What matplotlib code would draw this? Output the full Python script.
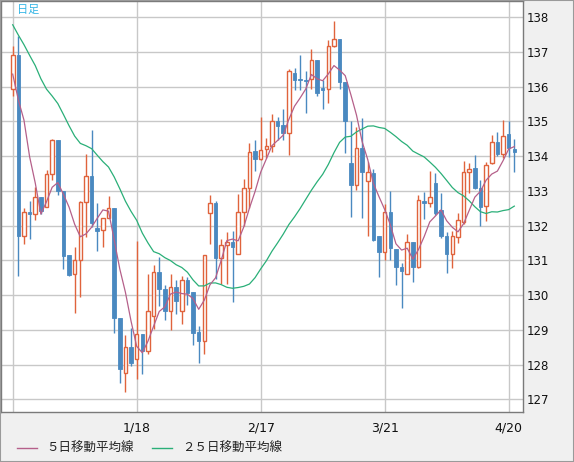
import numpy as np
import matplotlib
matplotlib.use("Agg")
import matplotlib.pyplot as plt
from matplotlib.patches import Rectangle
from matplotlib.lines import Line2D

# ---- data ----
opens = [135.93, 136.92, 131.69, 132.39, 132.33, 132.82, 132.55, 133.48, 134.47, 133.01,
         131.15, 130.60, 131.00, 132.67, 133.43, 131.92, 131.87, 132.21, 132.50, 129.33,
         127.75, 128.50, 128.15, 128.88, 128.40, 129.41, 130.66, 130.17, 129.55, 130.23,
         129.55, 130.44, 130.08, 128.93, 128.69, 132.36, 132.64, 131.08, 131.44, 131.52,
         131.18, 132.39, 133.08, 134.15, 133.92, 134.20, 134.29, 135.01, 134.90, 134.68,
         136.40, 136.21, 136.20, 136.21, 136.77, 135.96, 135.93, 137.17, 137.37, 136.15,
         133.81, 133.17, 134.23, 133.29, 133.51, 131.70, 131.25, 132.40, 131.32, 130.82,
         130.61, 131.52, 130.82, 132.71, 132.64, 133.24, 132.45, 131.70, 131.18, 131.67,
         132.10, 133.54, 133.65, 133.09, 132.57, 133.81, 134.42, 134.05, 134.64, 134.21]
highs = [137.16, 137.46, 132.50, 132.71, 133.12, 132.84, 133.60, 134.51, 134.47, 133.01,
         131.15, 131.40, 132.72, 134.07, 134.76, 132.66, 132.21, 132.86, 132.50, 129.33,
         128.85, 129.05, 131.56, 128.88, 130.61, 130.87, 131.09, 130.30, 130.60, 130.44,
         130.55, 130.53, 130.08, 129.12, 131.17, 132.88, 132.71, 131.62, 131.83, 131.85,
         132.90, 133.34, 134.37, 134.47, 135.14, 134.52, 135.22, 135.14, 135.36, 136.50,
         136.55, 136.91, 136.45, 137.09, 136.77, 136.19, 137.35, 137.89, 137.37, 136.15,
         135.00, 134.85, 135.10, 133.84, 133.63, 131.70, 132.62, 133.01, 131.32, 130.93,
         131.76, 131.52, 132.88, 132.98, 133.57, 133.51, 132.95, 131.83, 131.86, 132.36,
         133.86, 133.81, 134.04, 133.32, 133.84, 134.61, 134.71, 135.04, 135.00, 134.50]
lows = [135.74, 130.55, 131.48, 131.62, 132.15, 132.33, 132.55, 133.31, 132.87, 130.76,
        130.55, 129.50, 129.94, 131.68, 131.97, 131.28, 131.38, 132.21, 128.90, 127.46,
        127.22, 127.96, 127.58, 127.73, 128.31, 129.03, 129.69, 129.27, 129.00, 129.46,
        129.17, 129.72, 128.55, 128.06, 128.31, 131.46, 130.46, 130.32, 130.32, 129.79,
        131.18, 132.00, 132.50, 133.58, 133.88, 133.94, 134.13, 134.47, 134.47, 134.04,
        135.91, 135.91, 135.25, 135.93, 135.73, 135.36, 135.54, 137.15, 135.94, 134.10,
        132.26, 133.03, 132.21, 131.71, 131.57, 130.53, 131.01, 131.01, 130.29, 129.62,
        130.61, 130.39, 130.77, 132.19, 132.55, 132.30, 131.65, 130.63, 130.77, 131.49,
        132.05, 132.95, 133.05, 132.00, 132.14, 133.78, 134.00, 133.94, 133.99, 133.54]
closes = [136.92, 131.69, 132.39, 132.33, 132.82, 132.43, 133.48, 134.47, 133.01, 131.13,
          130.58, 131.00, 132.68, 133.43, 132.09, 131.86, 132.21, 132.50, 129.33, 127.87,
          128.50, 128.05, 128.88, 128.40, 129.54, 130.66, 130.17, 129.55, 130.23, 129.84,
          130.44, 130.07, 128.92, 128.69, 131.17, 132.64, 131.08, 131.44, 131.52, 131.39,
          132.39, 133.08, 134.13, 133.92, 134.18, 134.29, 135.00, 134.88, 134.68, 136.45,
          136.19, 136.19, 136.17, 136.77, 135.83, 135.91, 137.17, 137.37, 136.13, 135.02,
          133.17, 134.23, 133.55, 133.54, 131.59, 131.25, 132.40, 131.35, 130.80, 130.69,
          131.52, 130.82, 132.74, 132.64, 132.82, 132.37, 131.70, 131.18, 131.70, 132.16,
          133.54, 133.62, 133.09, 132.55, 133.75, 134.42, 134.05, 134.58, 134.23, 134.11]
# closes of the 24 sessions before the visible window (estimated; feed the moving averages)
prior_closes = [139.1, 139.3, 140.0, 140.2, 141.9, 141.0, 139.4, 138.4, 139.0, 138.7,
                138.5, 137.9, 135.1, 134.2, 136.6, 136.8, 136.4, 136.4, 136.4, 137.5,
                135.4, 135.3, 137.6, 136.6]

tick_pos = [0, 22, 44, 66, 88]
tick_labels = ["", "1/18", "2/17", "3/21", "4/20"]
y_ticks = list(range(127, 139))

legend_labels = ["５日移動平均線", "２５日移動平均線"]
title_label = "日足"

# ---- styling ----
UP = "#e0633c"
DOWN = "#4a89c0"
MA5_C = "#b5608a"
MA25_C = "#2aaf78"
GRID = "#c8c8c8"
BG = "#f0f0f0"

W, H = 574, 462
fig = plt.figure(figsize=(W / 100, H / 100), dpi=100)
fig.patch.set_facecolor(BG)

ax_l, ax_r, ax_t, ax_b = 1, 523, 1, 412
ax = fig.add_axes([ax_l / W, 1 - ax_b / H, (ax_r - ax_l) / W, (ax_b - ax_t) / H])
ax.set_facecolor("white")

n = len(closes)
x = np.arange(n)
o = np.array(opens); h = np.array(highs); l = np.array(lows); c = np.array(closes)

allc = np.array(prior_closes + closes)
def sma(arr, k):
    out = np.convolve(arr, np.ones(k) / k, mode="valid")
    return out[-n:]
ma5 = sma(allc, 5)
ma25 = sma(allc, 25)

up = c >= o
bw = 0.64
for i in range(n):
    col = UP if up[i] else DOWN
    ax.vlines(x[i], l[i], h[i], color=col, lw=1.0, zorder=3)
    bottom = min(o[i], c[i])
    height = max(abs(c[i] - o[i]), 0.03)
    if up[i]:
        ax.add_patch(Rectangle((x[i] - bw / 2, bottom), bw, height,
                               facecolor="white", edgecolor=col, lw=1.0, zorder=4))
    else:
        ax.add_patch(Rectangle((x[i] - bw / 2, bottom), bw, height,
                               facecolor=col, edgecolor=col, lw=0.6, zorder=4))

ax.plot(x, ma25, color=MA25_C, lw=0.9, zorder=5)
ax.plot(x, ma5, color=MA5_C, lw=0.9, zorder=5)

ax.set_xlim((ax_l - 12.7) / 5.636, (ax_r - 12.7) / 5.636)
ax.set_ylim(138 - (ax_b - 17.3) / 34.73, 138 + (17.3 - ax_t) / 34.73)

ax.set_xticks(tick_pos)
ax.set_xticklabels(tick_labels, fontsize=9, family="DejaVu Sans")
ax.set_yticks(y_ticks)
ax.set_yticklabels([str(v) for v in y_ticks], fontsize=8.5, family="DejaVu Sans")
ax.yaxis.tick_right()
ax.tick_params(axis="both", length=0, colors="#111111")
ax.tick_params(axis="x", pad=7)
ax.tick_params(axis="y", pad=3)
ax.grid(True, color=GRID, lw=1.0, zorder=0)
ax.set_axisbelow(True)
for s in ax.spines.values():
    s.set_color("#7a7a7a")
    s.set_linewidth(1.0)

ax.text(0.03, 0.99, title_label, transform=ax.transAxes, fontsize=8,
        family=["Noto Sans CJK JP", "DejaVu Sans"], color="#33b5e5",
        va="top", ha="left", zorder=6)

# legend (manual, below the plot)
ly = 1 - 448 / H
for (x0, x1, tx), lab, colr in zip([(16.5, 36.6, 46), (152, 172, 182)], legend_labels, [MA5_C, MA25_C]):
    fig.add_artist(Line2D([x0 / W, x1 / W], [ly, ly], color=colr, lw=1.0))
    fig.text(tx / W, ly, lab, fontsize=9, family=["Noto Sans CJK JP", "DejaVu Sans"],
             va="center", ha="left", color="#222222")

fig.add_artist(Rectangle((0, 0), 1, 1, transform=fig.transFigure, fill=False,
                         edgecolor="#9a9a9a", lw=1.5))

fig.savefig("out.png", dpi=100, facecolor=BG)
